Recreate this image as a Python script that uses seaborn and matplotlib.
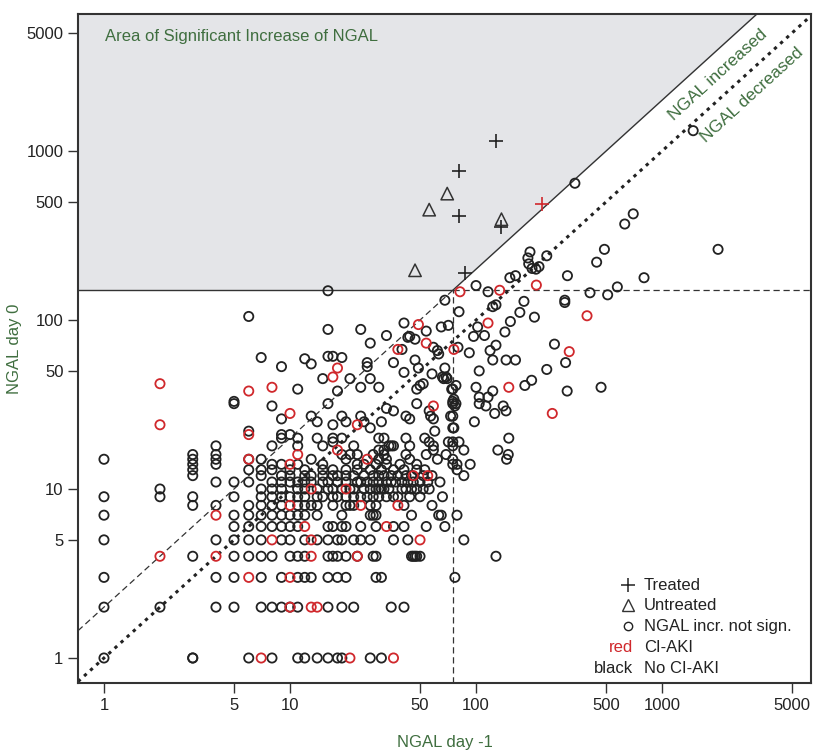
import numpy as np
import pandas as pd
import seaborn as sns
import matplotlib.pyplot as plt
from matplotlib.markers import MarkerStyle

# NGAL day 0 value -> list of NGAL day -1 values (hollow circles, no CI-AKI)
black_rows = {
    1: [1, 3, 3, 6, 8, 11, 12, 14, 16, 18, 19, 27, 31],
    2: [1, 2, 4, 5, 7, 8, 9, 10, 11, 16, 19, 22, 35, 41],
    3: [1, 4, 5, 7, 9, 11, 12, 13, 16, 18, 20, 29, 31, 77],
    4: [3, 5, 6, 7, 8, 10, 11, 12, 16, 17, 18, 20, 23, 28, 29, 45, 46, 47, 48, 50, 128],
    5: [1, 4, 5, 6, 7, 9, 10, 12, 14, 16, 18, 19, 22, 24, 27, 36, 43, 86],
    6: [5, 6, 7, 8, 9, 10, 11, 16, 17, 19, 20, 24, 29, 36, 41, 54, 68],
    7: [1, 5, 6, 7, 8, 9, 10, 11, 12, 14, 19, 27, 28, 29, 45, 63, 65, 79],
    8: [3, 4, 6, 7, 8, 9, 11, 12, 13, 14, 17, 20, 21, 22, 27, 29, 41, 58],
    9: [1, 2, 3, 5, 7, 8, 9, 10, 11, 12, 14, 15, 17, 18, 20, 22, 24, 26, 28, 30, 33, 36, 38, 44, 50, 66],
    10: [2, 7, 8, 9, 11, 12, 14, 16, 17, 19, 21, 22, 25, 27, 29, 30, 31, 32, 34, 40, 42, 45, 48, 52, 56],
    11: [4, 5, 6, 8, 9, 10, 11, 12, 13, 15, 16, 18, 20, 23, 24, 26, 28, 30, 33, 35, 37, 40, 43, 46, 50, 55, 64],
    12: [3, 7, 9, 10, 12, 13, 15, 17, 18, 20, 22, 25, 28, 30, 32, 35, 38, 42, 45, 52, 58, 86],
    13: [3, 6, 7, 8, 10, 12, 15, 17, 20, 23, 27, 31, 36, 41, 48, 53, 79],
    14: [3, 4, 8, 9, 11, 15, 23, 25, 29, 33, 39, 48, 75, 79, 93],
    15: [1, 3, 4, 6, 7, 13, 20, 30, 33, 44, 62, 75, 146],
    16: [3, 4, 19, 21, 23, 28, 32, 42, 54, 69, 149],
    17: [30, 32, 59, 86, 131],
    18: [4, 8, 11, 15, 22, 34, 35, 36, 44, 59, 75],
    19: [17, 56, 71, 75, 81],
    20: [9, 11, 14, 17, 19, 30, 32, 42, 53, 150],
    21: [9, 10],
    22: [6, 60],
    23: [27, 75, 76],
    24: [17],
    25: [14, 20, 25, 31, 98],
    26: [9, 44, 59],
    27: [13, 19, 24, 42, 57, 73, 75],
    28: [126],
    29: [36, 56, 145],
    30: [33],
    31: [8, 77, 113, 140],
    32: [5, 16, 48, 75, 78, 104],
    33: [5, 75],
    34: [76],
    35: [104, 116],
    38: [18, 123, 309],
    39: [11, 48, 74, 75],
    40: [24, 30, 100, 470],
    41: [50, 78, 183],
    42: [52],
    44: [199],
    45: [15, 21, 27, 67, 70],
    46: [66, 69],
    48: [58],
    49: [41],
    50: [104],
    51: [240],
    52: [49, 68],
    53: [9, 26],
    55: [13],
    56: [26, 36, 303],
    58: [47, 123, 145, 163],
    59: [12],
    60: [7, 19],
    61: [16, 17],
    63: [63],
    64: [92],
    66: [62, 119],
    67: [40],
    69: [59, 80],
    71: [128],
    72: [264],
    73: [27],
    77: [47],
    79: [43],
    80: [44, 97],
    81: [33, 111],
    85: [143],
    86: [54],
    88: [16, 24],
    91: [65, 102],
    93: [71],
    96: [41],
    98: [153],
    104: [206],
    105: [6],
    111: [172],
    112: [81],
    120: [123],
    123: [128],
    127: [300],
    129: [181],
    131: [68, 300],
    141: [510],
    145: [410],
    147: [116],
    149: [16],
    157: [575],
    160: [100],
    178: [152, 800],
    183: [163, 310],
    200: [210],
    202: [200],
    207: [218],
    215: [192],
    220: [445],
    233: [190],
    240: [240],
    253: [195],
    262: [490, 2000],
    370: [630],
    425: [700],
    645: [340],
    1320: [1470],
}

# hollow circles, CI-AKI
red_rows = {
    1: [7, 21, 36],
    2: [10, 13, 14],
    3: [6, 10],
    4: [2, 4, 13, 23],
    5: [8, 13, 50],
    6: [12, 33],
    7: [4],
    8: [10, 24, 38],
    10: [13, 20],
    12: [46, 55],
    14: [10],
    15: [6, 26],
    16: [11],
    17: [18],
    21: [6],
    24: [2, 23],
    28: [10, 257],
    31: [59],
    38: [6],
    40: [8, 150],
    42: [2],
    46: [17],
    52: [18],
    65: [317],
    67: [38, 76],
    73: [54],
    94: [49],
    96: [116],
    106: [395],
    147: [82],
    150: [134],
    161: [211],
}

treated_x = [128, 81, 81, 137, 87, 226]
treated_y = [1140, 760, 415, 355, 190, 485]
treated_aki = [False, False, False, False, False, True]

untreated_x = [70, 56, 137, 47]
untreated_y = [560, 450, 395, 197]

day_m1_cut = 75
day0_cut = 150
ratio = 2

green = '#3f6e3f'
red = '#d0282c'
black = '#222222'

recs = []
for d0, xs in black_rows.items():
    for xm in xs:
        recs.append((xm, d0, 'circle', False))
for d0, xs in red_rows.items():
    for xm in xs:
        recs.append((xm, d0, 'circle', True))
for xm, d0, a in zip(treated_x, treated_y, treated_aki):
    recs.append((xm, d0, 'treated', a))
for xm, d0 in zip(untreated_x, untreated_y):
    recs.append((xm, d0, 'untreated', False))
df = pd.DataFrame(recs, columns=['day_m1', 'day0', 'group', 'aki'])

sns.set_style('ticks')
plt.rcParams['font.family'] = ['Liberation Sans', 'DejaVu Sans']

fig = plt.figure(figsize=(8.15, 7.5), dpi=100)
ax = fig.add_axes([0.0957, 0.0893, 0.8994, 0.892])
ax.set_xscale('log')
ax.set_yscale('log')
xmin, xmax = 0.725, 6320
ymin, ymax = 0.711, 6470
ax.set_xlim(xmin, xmax)
ax.set_ylim(ymin, ymax)

# grey area of significant increase
xs = np.geomspace(xmin, xmax, 600)
ax.fill_between(xs, np.maximum(day0_cut, ratio * xs), ymax * 2, color='#e4e5e8', zorder=0, lw=0)
ax.plot([xmin, day_m1_cut], [day0_cut, day0_cut], color='#333333', lw=1, zorder=1)
ax.plot([day_m1_cut, ymax / ratio], [day0_cut, ymax], color='#333333', lw=1, zorder=1)
ax.plot([xmin, day_m1_cut], [ratio * xmin, day0_cut], color='#333333', lw=0.9,
        ls=(0, (5, 3)), zorder=1)
ax.plot([day_m1_cut, xmax], [day0_cut, day0_cut], color='#333333', lw=0.9, ls=(0, (5, 3)), zorder=1)
ax.plot([day_m1_cut, day_m1_cut], [ymin, day0_cut], color='#333333', lw=0.9, ls=(0, (5, 3)), zorder=1)
ax.plot([xmin, xmax], [xmin, xmax], color='#222222', lw=2.2, ls=(0, (1.1, 1.6)), zorder=1)

hollow_o = MarkerStyle('o', fillstyle='none')
hollow_t = MarkerStyle('^', fillstyle='none')
for aki, col in [(False, black), (True, red)]:
    sub = df[(df['group'] == 'circle') & (df['aki'] == aki)]
    sns.scatterplot(data=sub, x='day_m1', y='day0', marker=hollow_o, s=44, color=col,
                    linewidth=1.3, ax=ax, legend=False, zorder=3)
    sub = df[(df['group'] == 'treated') & (df['aki'] == aki)]
    sns.scatterplot(data=sub, x='day_m1', y='day0', marker='+', s=100, color=col,
                    linewidth=1.2, ax=ax, legend=False, zorder=3)
sub = df[df['group'] == 'untreated']
sns.scatterplot(data=sub, x='day_m1', y='day0', marker=hollow_t, s=80, color='#333333',
                linewidth=1.1, ax=ax, legend=False, zorder=3)

ticks = [1, 5, 10, 50, 100, 500, 1000, 5000]
ax.set_xticks(ticks)
ax.set_xticklabels([str(t) for t in ticks])
ax.set_yticks(ticks)
ax.set_yticklabels([str(t) for t in ticks])
ax.minorticks_off()
ax.tick_params(length=7, width=1, colors='#333333', labelcolor='#222222', labelsize=12)
for sp in ax.spines.values():
    sp.set_color('#333333')
    sp.set_linewidth(1.5)

ax.set_xlabel('NGAL day -1', color=green, fontsize=12, labelpad=16)
ax.set_ylabel('NGAL day 0', color=green, fontsize=12, labelpad=3)

ax.text(0.037, 0.966, 'Area of Significant Increase of NGAL', transform=ax.transAxes,
        color=green, fontsize=12, va='center', ha='left')
ax.text(2000, 2818, 'NGAL increased', color=green, fontsize=12.5, rotation=42.3,
        ha='center', va='center', rotation_mode='anchor')
ax.text(3048, 2144, 'NGAL decreased', color=green, fontsize=12.5, rotation=42.3,
        ha='center', va='center', rotation_mode='anchor')

# legend
lx, tx = 0.750, 0.772
rows_y = [0.1465, 0.1166, 0.0852, 0.0538, 0.0224]
ax.plot([lx], [rows_y[0]], marker='+', ms=10, mew=1.1, color=black, transform=ax.transAxes)
ax.plot([lx], [rows_y[1]], marker='^', ms=8, mew=1.0, mfc='none', color='#333333', transform=ax.transAxes)
ax.plot([lx], [rows_y[2]], marker='o', ms=6, mew=1.0, mfc='none', color=black, transform=ax.transAxes)
labels = ['Treated', 'Untreated', 'NGAL incr. not sign.', 'CI-AKI', 'No CI-AKI']
for yy, lab in zip(rows_y, labels):
    ax.text(tx, yy, lab, transform=ax.transAxes, fontsize=12, va='center', ha='left', color=black)
ax.text(0.757, rows_y[3], 'red', transform=ax.transAxes, fontsize=12, va='center', ha='right', color=red)
ax.text(0.757, rows_y[4], 'black', transform=ax.transAxes, fontsize=12, va='center', ha='right', color=black)

fig.savefig('out.png', dpi=100)
